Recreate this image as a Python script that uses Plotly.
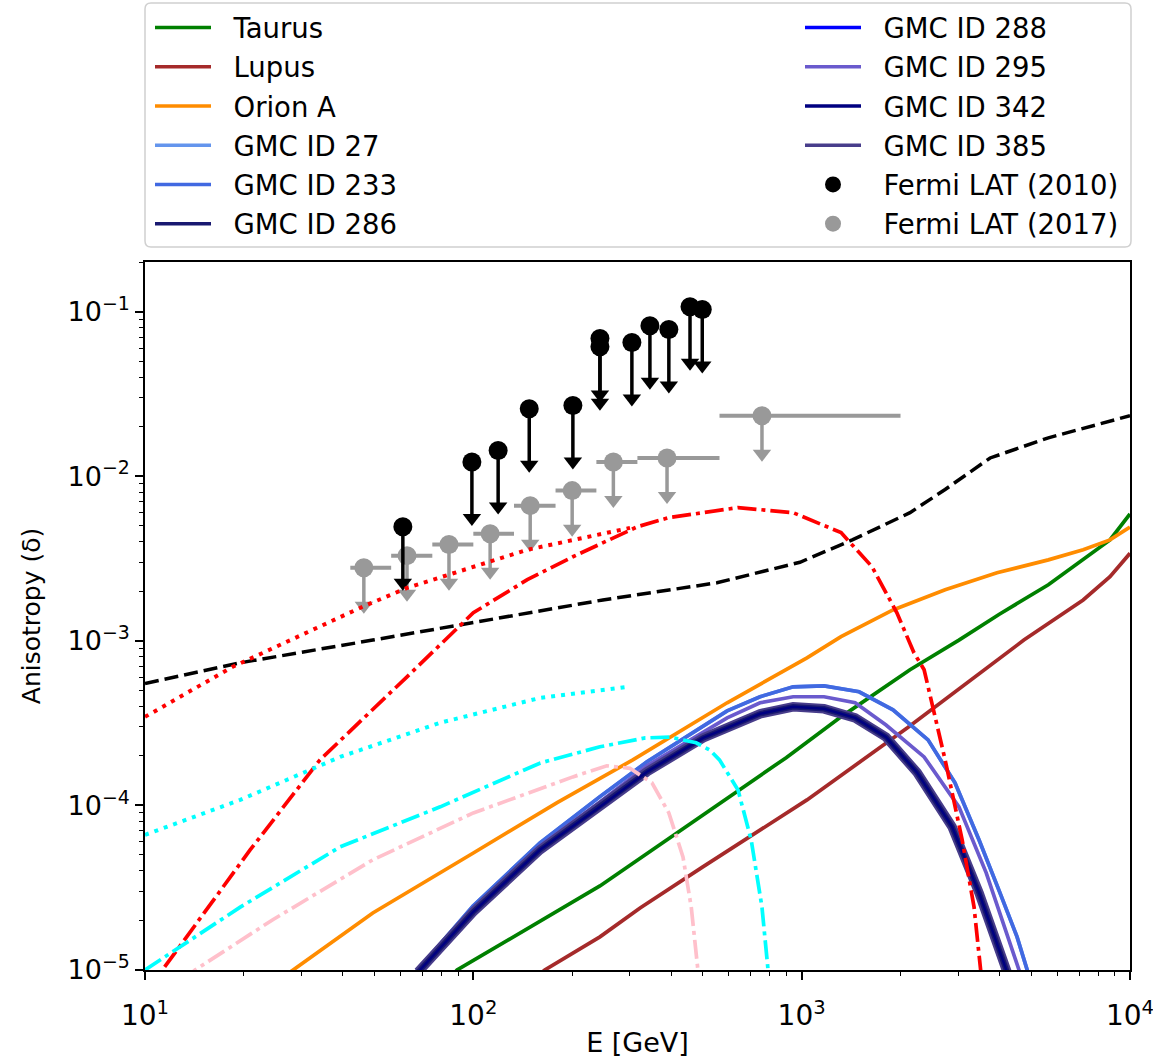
import math
import plotly.graph_objects as go

# ---------------- data ----------------
# x: energy E [GeV], y: anisotropy delta
taurus_E = [85, 89.2, 243, 514, 897, 1318, 2138, 3013, 4000, 5640, 7200, 8690, 10000]
taurus_d = [9e-6, 1e-5, 3.24e-5, 9.0e-5, 1.95e-4, 3.45e-4, 6.67e-4, 1.01e-3, 1.45e-3, 2.19e-3, 3.1e-3, 4.1e-3, 5.9e-3]

lupus_E = [155, 165, 243, 322, 500, 1038, 2100, 4750, 7200, 8690, 10000]
lupus_d = [9e-6, 1e-5, 1.59e-5, 2.38e-5, 4.23e-5, 1.08e-4, 2.96e-4, 1.01e-3, 1.77e-3, 2.45e-3, 3.4e-3]

orion_E = [25, 28.3, 49.4, 100, 180, 306, 593, 1038, 1318, 1897, 2735, 3935, 5640, 7200, 8690, 10000]
orion_d = [8.4e-6, 1e-5, 2.22e-5, 5.14e-5, 1.04e-4, 1.89e-4, 4.2e-4, 7.88e-4, 1.06e-3, 1.54e-3,
           2.04e-3, 2.59e-3, 3.1e-3, 3.57e-3, 4.1e-3, 4.9e-3]

gmc_outer_E = [66.9, 99.8, 159.6, 243, 338, 501, 593, 747, 942, 1170, 1496, 1897, 2426, 2931, 3470, 4018, 4529, 4894, 5110]
gmc_outer_d = [9.72e-6, 2.45e-5, 5.91e-5, 1.13e-4, 1.84e-4, 3.04e-4, 3.75e-4, 4.57e-4, 5.25e-4, 5.32e-4,
               4.9e-4, 3.81e-4, 2.5e-4, 1.37e-4, 6.16e-5, 2.94e-5, 1.59e-5, 9.6e-6, 7.05e-6]

gmc295_E = [67.9, 99.8, 159.6, 243, 338, 501, 593, 747, 942, 1170, 1455, 1807, 2360, 3013, 3648, 4592, 4860]
gmc295_d = [1e-5, 2.35e-5, 5.67e-5, 1.05e-4, 1.74e-4, 2.76e-4, 3.4e-4, 4.2e-4, 4.57e-4, 4.57e-4,
            4.2e-4, 3.08e-4, 1.97e-4, 9.8e-5, 3.89e-5, 1e-5, 7.05e-6]

gmc_dark_E = [67.9, 99.8, 159.6, 243, 338, 501, 593, 747, 942, 1170, 1455, 1807, 2248, 2873, 3470, 4223, 4470]
gmc_dark_d = [9.72e-6, 2.25e-5, 5.37e-5, 9.8e-5, 1.6e-4, 2.57e-4, 2.96e-4, 3.6e-4, 3.97e-4, 3.86e-4,
              3.4e-4, 2.6e-4, 1.58e-4, 7.4e-5, 2.94e-5, 1e-5, 7.05e-6]

black_dashed_E = [10, 19.5, 49.4, 100, 248, 552, 988, 1426, 2138, 2735, 3750, 5640, 9860, 10000]
black_dashed_d = [5.5e-4, 7.35e-4, 1.01e-3, 1.29e-3, 1.77e-3, 2.25e-3, 3.0e-3, 4.1e-3, 6.0e-3, 8.3e-3,
                  1.29e-2, 1.71e-2, 2.3e-2, 2.33e-2]

red_dotted_E = [10, 18.5, 46, 63, 146, 300]
red_dotted_d = [3.45e-4, 6.95e-4, 1.61e-3, 2.1e-3, 3.57e-3, 4.85e-3]

red_dashdot_E = [10, 11.3, 20.9, 34.1, 62.8, 100, 146, 201, 316, 394, 640, 942, 1318, 1637, 1950,
                 2198, 2360, 2735, 3083, 3350, 3516, 3650]
red_dashdot_d = [7.2e-6, 1e-5, 5.36e-5, 1.89e-4, 6.04e-4, 1.48e-3, 2.35e-3, 3.24e-3, 4.93e-3, 5.6e-3,
                 6.44e-3, 6.0e-3, 4.54e-3, 2.82e-3, 1.48e-3, 8.45e-4, 6.67e-4, 1.89e-4, 6.16e-5,
                 2.41e-5, 9.6e-6, 5e-6]

cyan_dotted_E = [10, 19.5, 39.3, 79.3, 160, 294]
cyan_dotted_d = [6.62e-5, 1.08e-4, 1.97e-4, 3.18e-4, 4.5e-4, 5.25e-4]

cyan_dashdot_E = [10, 19.5, 39.3, 79.3, 160, 243, 334, 397, 477, 525, 562, 640, 702, 757, 790, 805]
cyan_dashdot_d = [1.0e-5, 2.41e-5, 5.6e-5, 9.8e-5, 1.81e-4, 2.27e-4, 2.57e-4, 2.6e-4, 2.4e-4, 2.17e-4,
                  1.89e-4, 1.24e-4, 6.16e-5, 2.41e-5, 1.0e-5, 6e-6]

pink_dashdot_E = [13, 14.2, 24.5, 49.4, 100, 201, 255, 300, 350, 394, 435, 461, 483, 495]
pink_dashdot_d = [8.5e-6, 1e-5, 2.02e-5, 4.67e-5, 9.0e-5, 1.49e-4, 1.74e-4, 1.68e-4, 1.37e-4, 9.0e-5,
                  4.87e-5, 2.41e-5, 1e-5, 6e-6]

# Fermi LAT (2010) upper limits
fermi2010_E = [61, 99, 119, 148, 201, 243, 243, 304, 345, 394, 457, 498]
fermi2010_d = [4.93e-3, 1.22e-2, 1.43e-2, 2.57e-2, 2.69e-2, 6.86e-2, 6.12e-2, 6.49e-2, 8.2e-2, 7.78e-2,
               1.07e-1, 1.03e-1]

# Fermi LAT (2017) upper limits with energy bins
fermi2017_E = [46.4, 62.8, 84.3, 112.5, 149, 200, 267, 389, 757]
fermi2017_d = [2.78e-3, 3.29e-3, 3.84e-3, 4.47e-3, 6.62e-3, 8.17e-3, 1.22e-2, 1.29e-2, 2.33e-2]
fermi2017_Elo = [42.2, 56.2, 75, 100, 133, 178, 237, 316, 562]
fermi2017_Ehi = [56.2, 75, 100, 133, 178, 237, 316, 562, 2000]

band_top = 1.9e-4
band_bottom = 1e-5

x_tickvals = [10, 100, 1000, 10000]
x_ticktext = ["10<sup>1</sup>", "10<sup>2</sup>", "10<sup>3</sup>", "10<sup>4</sup>"]
y_tickvals = [1e-5, 1e-4, 1e-3, 1e-2, 1e-1]
y_ticktext = ["10<sup>\u22125</sup>", "10<sup>\u22124</sup>", "10<sup>\u22123</sup>",
              "10<sup>\u22122</sup>", "10<sup>\u22121</sup>"]

# ---------------- styling helpers ----------------
ARROW_BLACK = 0.457   # arrowhead position relative to limit (visual length of arrow)
ARROW_GREY = 0.587
GREY = "#999999"

fig = go.Figure()


def add_line(x, y, color, width, dash="solid"):
    fig.add_trace(go.Scatter(x=x, y=y, mode="lines", showlegend=False,
                             line=dict(color=color, width=width, dash=dash), hoverinfo="skip"))


def segs_vertical(E, d, f):
    xs, ys = [], []
    for e, v in zip(E, d):
        xs += [e, e, None]
        ys += [v, v * f, None]
    return xs, ys


def segs_horizontal(lo, hi, d):
    xs, ys = [], []
    for a, b, v in zip(lo, hi, d):
        xs += [a, b, None]
        ys += [v, v, None]
    return xs, ys


# Fermi 2017 (grey)
hx, hy = segs_horizontal(fermi2017_Elo, fermi2017_Ehi, fermi2017_d)
add_line(hx, hy, GREY, 4)
vx, vy = segs_vertical(fermi2017_E, fermi2017_d, ARROW_GREY)
add_line(vx, vy, GREY, 3.5)
fig.add_trace(go.Scatter(x=fermi2017_E, y=[v * ARROW_GREY for v in fermi2017_d], mode="markers",
                         showlegend=False, marker=dict(symbol="triangle-down", size=16, color=GREY)))
fig.add_trace(go.Scatter(x=fermi2017_E, y=fermi2017_d, mode="markers", showlegend=False,
                         marker=dict(symbol="circle", size=19, color=GREY)))

# Fermi 2010 (black)
vx, vy = segs_vertical(fermi2010_E, fermi2010_d, ARROW_BLACK)
add_line(vx, vy, "black", 3.5)
fig.add_trace(go.Scatter(x=fermi2010_E, y=[v * ARROW_BLACK for v in fermi2010_d], mode="markers",
                         showlegend=False, marker=dict(symbol="triangle-down", size=16, color="black")))
fig.add_trace(go.Scatter(x=fermi2010_E, y=fermi2010_d, mode="markers", showlegend=False,
                         marker=dict(symbol="circle", size=19, color="black")))

# cloud curves
add_line(taurus_E, taurus_d, "#008000", 3.7)
add_line(lupus_E, lupus_d, "#A52A2A", 3.7)
add_line(orion_E, orion_d, "#FF8C00", 3.7)
add_line(gmc_outer_E, gmc_outer_d, "#6495ED", 3.7)   # GMC ID 27
add_line(gmc_outer_E, gmc_outer_d, "#4169E1", 3.7)   # GMC ID 233
add_line(gmc295_E, gmc295_d, "#6A5ACD", 3.7)         # GMC ID 295
add_line(gmc_dark_E, gmc_dark_d, "#0000FF", 3)       # GMC ID 288
add_line(gmc_dark_E, gmc_dark_d, "#483D8B", 9.5)     # GMC ID 385
add_line(gmc_dark_E, gmc_dark_d, "#191970", 5.5)     # GMC ID 286
add_line(gmc_dark_E, gmc_dark_d, "#000080", 2.5)     # GMC ID 342

# model curves
add_line(black_dashed_E, black_dashed_d, "black", 3.5, "14px,6px")
add_line(red_dotted_E, red_dotted_d, "#FF0000", 4, "4px,6px")
add_line(red_dashdot_E, red_dashdot_d, "#FF0000", 3.7, "19px,5px,4px,5px")
add_line(cyan_dotted_E, cyan_dotted_d, "#00FFFF", 4, "4px,6px")
add_line(cyan_dashdot_E, cyan_dashdot_d, "#00FFFF", 3.7, "19px,5px,4px,5px")
add_line(pink_dashdot_E, pink_dashdot_d, "#FFC0CB", 3.7, "19px,5px,4px,5px")

# ---------------- legend entries ----------------
PAD = "\u00a0\u00a0"
left_items = [("Taurus", "#008000"), ("Lupus", "#A52A2A"), ("Orion A", "#FF8C00"),
              ("GMC ID 27", "#6495ED"), ("GMC ID 233", "#4169E1"), ("GMC ID 286", "#191970")]
right_items = [("GMC ID 288", "#0000FF"), ("GMC ID 295", "#6A5ACD"), ("GMC ID 342", "#000080"),
               ("GMC ID 385", "#483D8B")]
for i, (nm, col) in enumerate(left_items):
    fig.add_trace(go.Scatter(x=[None], y=[None], mode="lines", name=PAD + nm, legend="legend",
                             legendgroup="L%d" % i, line=dict(color=col, width=3.5)))
for i, (nm, col) in enumerate(right_items):
    fig.add_trace(go.Scatter(x=[None], y=[None], mode="lines", name=PAD + nm, legend="legend2",
                             legendgroup="R%d" % i, line=dict(color=col, width=3.5)))
fig.add_trace(go.Scatter(x=[None], y=[None], mode="markers", name=PAD + "Fermi LAT (2010)", legend="legend2",
                         legendgroup="R8", marker=dict(color="black", size=16)))
fig.add_trace(go.Scatter(x=[None], y=[None], mode="markers", name=PAD + "Fermi LAT (2017)", legend="legend2",
                         legendgroup="R9", marker=dict(color=GREY, size=16)))

W_PLOT, H_PLOT = 985.0, 708.0
def px_x(p):
    return (p - 145) / W_PLOT
def px_y(p):
    return (970 - p) / H_PLOT

legend_common = dict(xref="paper", yref="paper", xanchor="left", yanchor="top",
                     bgcolor="rgba(0,0,0,0)", borderwidth=0,
                     font=dict(family="DejaVu Sans", size=27.5, color="black"),
                     tracegroupgap=0.5, itemwidth=56, traceorder="grouped")

# legend frame (rounded), in paper coordinates
fx0, fx1 = px_x(145), px_x(1131)
fy0, fy1 = px_y(247), px_y(3)
rx, ry = 6.0 / W_PLOT, 6.0 / H_PLOT
frame_path = ("M {a},{b} L {c},{b} Q {x1},{b} {x1},{d} L {x1},{e} Q {x1},{y1} {c},{y1} "
              "L {a},{y1} Q {x0},{y1} {x0},{e} L {x0},{d} Q {x0},{b} {a},{b} Z").format(
    a=fx0 + rx, b=fy0, c=fx1 - rx, d=fy0 + ry, e=fy1 - ry, x0=fx0, x1=fx1, y1=fy1)

fig.update_layout(
    width=1153, height=1058,
    margin=dict(l=145, r=23, t=262, b=88, autoexpand=False),
    plot_bgcolor="white", paper_bgcolor="white",
    font=dict(family="DejaVu Sans", size=25, color="black"),
    showlegend=True,
    legend=dict(x=px_x(150), y=px_y(3), **legend_common),
    legend2=dict(x=px_x(800), y=px_y(3), **legend_common),
    xaxis=dict(type="log", range=[1, 4], tickmode="array", tickvals=x_tickvals, ticktext=x_ticktext,
               showline=True, linecolor="black", linewidth=1.6, mirror=True,
               ticks="outside", ticklen=8, tickwidth=1.6, tickcolor="black", ticklabelstandoff=12,
               ticklabeloverflow="allow",
               showgrid=False, zeroline=False, tickfont=dict(size=28),
               minor=dict(dtick="D1", ticks="outside", ticklen=4.5, tickwidth=1.2, tickcolor="black",
                          showgrid=False),
               title=dict(text="E [GeV]", font=dict(size=27), standoff=2)),
    yaxis=dict(type="log", range=[-5, math.log10(0.2)], tickmode="array", tickvals=y_tickvals,
               ticktext=y_ticktext,
               showline=True, linecolor="black", linewidth=1.6, mirror=True,
               ticks="outside", ticklen=8, tickwidth=1.6, tickcolor="black",
               ticklabeloverflow="allow",
               showgrid=False, zeroline=False, tickfont=dict(size=27),
               minor=dict(dtick="D1", ticks="outside", ticklen=4.5, tickwidth=1.2, tickcolor="black",
                          showgrid=False),
               title=dict(text="Anisotropy (\u03b4)", font=dict(size=25), standoff=20)),
    shapes=[
        dict(type="rect", xref="paper", yref="y", x0=0, x1=1,
             y0=math.log10(band_bottom), y1=math.log10(band_top),
             fillcolor="#FFFFCC", line=dict(width=0), layer="below"),
        dict(type="line", xref="paper", yref="y", x0=0, x1=1,
             y0=math.log10(band_top), y1=math.log10(band_top),
             line=dict(color="#C8C83C", width=1.6), layer="below"),
        dict(type="path", xref="paper", yref="paper", path=frame_path,
             line=dict(color="#D0D0D0", width=1.5), fillcolor="rgba(0,0,0,0)", layer="above"),
    ],
)

fig.write_html("out.html")
